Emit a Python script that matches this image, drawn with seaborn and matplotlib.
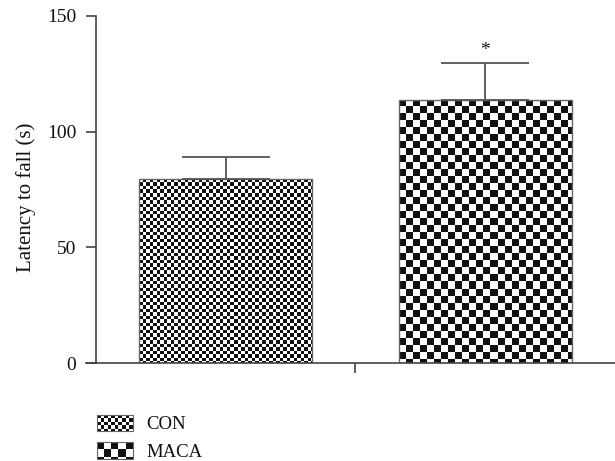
import numpy as np
import pandas as pd
import matplotlib
matplotlib.use("Agg")
import matplotlib.pyplot as plt
import seaborn as sns
from matplotlib.colors import ListedColormap
from matplotlib.patches import Rectangle
from matplotlib.legend_handler import HandlerBase

# Rotarod latency (mean and SEM) per group
groups = ["CON", "MACA"]
latency_mean = [79.5, 113.8]
latency_sem = [9.5, 16.0]
significance = ["", "*"]
y_ticks = [0, 50, 100, 150]

# checkerboard cell size (pixels) used to fill each group's bar
cell_px = {"CON": 3.5, "MACA": 7.0}
legend_cols = {"CON": 10, "MACA": 5}

sns.set_theme(style="ticks")
plt.rcParams["font.family"] = ["Liberation Serif", "DejaVu Serif"]

DARK = "#111111"
AXIS = "#444444"

df = pd.DataFrame({"condition": [""] * len(groups), "group": groups,
                   "latency": latency_mean})

fig = plt.figure(figsize=(6.15, 4.61), dpi=100)
ax = fig.add_axes([86 / 615, 98 / 461, 529 / 615, 347 / 461])

sns.barplot(data=df, x="condition", y="latency", hue="group", hue_order=groups,
            width=2.0, gap=0.333, errorbar=None, legend=False, ax=ax,
            palette=["white", "white"], edgecolor="#666666", linewidth=1.0)

ax.set_xlim(-1.0385, 1.0)
ax.set_ylim(0, 150)
fig.canvas.draw()

# data units per pixel
(px0, py0), (px1, py1) = ax.transData.transform([(0, 0), (1, 1)])
ux = 1.0 / (px1 - px0)
uy = 1.0 / (py1 - py0)

checker_cmap = ListedColormap(["white", DARK])
bars = sorted(ax.patches, key=lambda p: p.get_x())
centers = []
for grp, bar in zip(groups, bars):
    x0, y0 = bar.get_x(), bar.get_y()
    w, h = bar.get_width(), bar.get_height()
    centers.append(x0 + w / 2)
    dx, dy = cell_px[grp] * ux, cell_px[grp] * uy
    ncol = int(np.ceil(w / dx))
    nrow = int(np.ceil(h / dy))
    board = np.add.outer(np.arange(nrow), np.arange(ncol)) % 2
    img = ax.imshow(board[::-1], cmap=checker_cmap, vmin=0, vmax=1,
                    extent=(x0, x0 + ncol * dx, y0 + h - nrow * dy, y0 + h),
                    origin="upper", interpolation="nearest", aspect="auto",
                    zorder=bar.get_zorder() - 0.1)
    img.set_clip_path(bar)
    bar.set_facecolor("none")

ax.errorbar(centers, latency_mean, yerr=[[0] * len(groups), latency_sem],
            fmt="none", ecolor="#555555", elinewidth=1.3, capsize=31.5,
            capthick=1.3, zorder=5)

for cx, m, s, sig in zip(centers, latency_mean, latency_sem, significance):
    if sig:
        ax.annotate(sig, xy=(cx, m + s), xytext=(0, 3), textcoords="offset points",
                    ha="center", va="bottom", fontsize=14, color=DARK)

ax.set_xlim(-1.0385, 1.0)
ax.set_ylim(0, 150)
ax.set_xticks([0])
ax.set_xticklabels([""])
ax.set_yticks(y_ticks)
ax.set_yticklabels([str(t) for t in y_ticks])
ax.set_xlabel("")
ax.set_ylabel("Latency to fall (s)", fontsize=15, color=DARK)
ax.yaxis.set_label_coords(-0.095, 0.478)

sns.despine(ax=ax)
ax.spines["left"].set_position(("data", -1.0))
for side in ("left", "bottom"):
    ax.spines[side].set_color(AXIS)
    ax.spines[side].set_linewidth(1.2)
ax.tick_params(axis="both", direction="out", length=7.2, width=1.2,
               color=AXIS, labelcolor=DARK, labelsize=14, pad=7)


class CheckerHandler(HandlerBase):
    def __init__(self, ncols):
        super().__init__()
        self.ncols = ncols

    def create_artists(self, legend, orig_handle, xdescent, ydescent,
                       width, height, fontsize, trans):
        x0, y0 = -xdescent, -ydescent
        cell = width / self.ncols
        nrows = int(np.ceil(height / cell - 1e-6))
        arts = []
        for r in range(nrows):
            ch = min(cell, height - r * cell)
            cy = y0 + height - r * cell - ch
            for c in range(self.ncols):
                if (r + c) % 2 == 0:
                    arts.append(Rectangle((x0 + c * cell, cy), cell, ch,
                                          facecolor=DARK, edgecolor="none",
                                          transform=trans))
        arts.append(Rectangle((x0, y0), width, height, facecolor="none",
                              edgecolor="#666666", linewidth=0.8,
                              transform=trans))
        return arts


handles = [Rectangle((0, 0), 1, 1, label=g) for g in groups]
fig.legend(handles=handles, labels=groups,
           handler_map={h: CheckerHandler(legend_cols[g]) for h, g in zip(handles, groups)},
           loc="lower left", bbox_to_anchor=(97 / 615, 0.0), frameon=False,
           borderpad=0, borderaxespad=0, handlelength=1.9, handleheight=0.98,
           handletextpad=0.75, labelspacing=0.47, fontsize=13.5,
           labelcolor=DARK)

fig.savefig("out.png", dpi=100)
